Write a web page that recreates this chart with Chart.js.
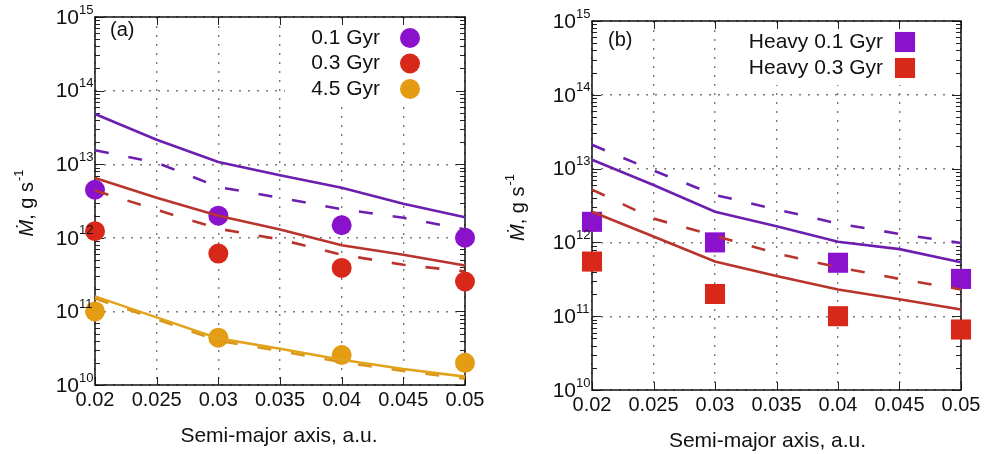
<!DOCTYPE html>
<html><head><meta charset="utf-8">
<script src="https://cdn.jsdelivr.net/npm/chart.js@4.4.0/dist/chart.umd.min.js"></script>
<style>
html,body{margin:0;padding:0;background:#fff;}
#wrap{position:relative;width:989px;height:454px;overflow:hidden;background:#fff;}
.p{position:absolute;top:0;}
</style></head><body>
<div id="wrap">
<div class="p" style="left:0;"><canvas id="ca" width="494" height="454"></canvas></div>
<div class="p" style="left:494px;"><canvas id="cb" width="495" height="454"></canvas></div>
</div>
<script>
// ---------- data ----------
const xPoints = [0.02, 0.03, 0.04, 0.05];
const xModel = [0.02, 0.025, 0.03, 0.035, 0.04, 0.045, 0.05];
const xTicks = [0.02, 0.025, 0.03, 0.035, 0.04, 0.045, 0.05];
const xTickLabels = ['0.02', '0.025', '0.03', '0.035', '0.04', '0.045', '0.05'];
const yTickExponents = [10, 11, 12, 13, 14, 15];
const xTitle = 'Semi-major axis, a.u.';
const yTitleMain = 'Ṁ, g s';
const yTitleSup = '-1';

// panel (a)
const aLabels = ['0.1 Gyr', '0.3 Gyr', '4.5 Gyr'];
const aObs01 = [4.5e12, 2.0e12, 1.48e12, 1.0e12];
const aObs03 = [1.23e12, 6.1e11, 3.9e11, 2.55e11];
const aObs45 = [1.0e11, 4.4e10, 2.56e10, 2.0e10];
const aSolid01 = [4.8e13, 2.15e13, 1.07e13, 7.1e12, 4.8e12, 2.9e12, 1.9e12];
const aDash01 = [1.55e13, 1.05e13, 4.9e12, 3.5e12, 2.45e12, 1.87e12, 1.3e12];
const aSolid03 = [6.5e12, 3.5e12, 2.0e12, 1.3e12, 7.9e11, 5.9e11, 4.2e11];
const aDash03 = [4.4e12, 2.4e12, 1.33e12, 9.5e11, 5.9e11, 4.3e11, 3.5e11];
const aSolid45 = [1.6e11, 8.3e10, 4.3e10, 3.1e10, 2.2e10, 1.65e10, 1.3e10];
const aDash45 = [1.5e11, 7.8e10, 4.0e10, 2.9e10, 2.05e10, 1.55e10, 1.22e10];

// panel (b)
const bLabels = ['Heavy 0.1 Gyr', 'Heavy 0.3 Gyr'];
const bObs01 = [1.9e12, 1.0e12, 5.3e11, 3.2e11];
const bObs03 = [5.5e11, 2.0e11, 1.0e11, 6.6e10];
const bSolid01 = [1.32e13, 6.0e12, 2.6e12, 1.66e12, 1.02e12, 8.1e11, 5.4e11];
const bDash01 = [2.1e13, 9.4e12, 4.4e12, 2.8e12, 1.8e12, 1.3e12, 9.8e11];
const bSolid03 = [2.6e12, 1.2e12, 5.5e11, 3.5e11, 2.3e11, 1.7e11, 1.23e11];
const bDash03 = [5.2e12, 2.1e12, 1.23e12, 7.1e11, 4.6e11, 3.2e11, 2.3e11];

// ---------- styles ----------
const C = {
  purpleM: '#8a12cc', redM: '#d8281a', yellowM: '#e49c12',
  purpleL: '#6c1fae', redL: '#b8342c', yellowL: '#e3a21c'
};
const FONT = '"Liberation Sans", Arial, Helvetica, sans-serif';

function pts(xs, ys) { return xs.map((x, i) => ({ x: x, y: ys[i] })); }
function lineDs(data, color, dashed) {
  return {
    data: pts(xModel, data), showLine: true, pointRadius: 0, borderColor: color,
    borderWidth: 2.6, borderDash: dashed ? [14, 20] : [], fill: false, tension: 0, order: 1, clip: false
  };
}
function markDs(label, data, color, style, r) {
  return {
    label: label, data: pts(xPoints, data), showLine: false, pointStyle: style,
    pointRadius: r, pointBackgroundColor: color, pointBorderColor: color, pointBorderWidth: 0,
    order: 2, legendShow: true, clip: false
  };
}

const decor = {
  id: 'decor',
  beforeDatasetsDraw(chart, args, o) {
    const ctx = chart.ctx, ca = chart.chartArea, xs = chart.scales.x, ys = chart.scales.y;
    ctx.save();
    // legend background
    ctx.fillStyle = '#fff';
    ctx.fillRect(ca.left + o.box[0], ca.top + 2, ca.right - 2 - (ca.left + o.box[0]), o.box[1]);
    // ticks
    ctx.strokeStyle = '#222'; ctx.lineWidth = 1;
    ctx.beginPath();
    for (let e = yTickExponents[0]; e < yTickExponents[yTickExponents.length - 1]; e++) {
      for (let m = 2; m <= 9; m++) {
        const y = Math.round(ys.getPixelForValue(m * Math.pow(10, e))) + 0.5;
        ctx.moveTo(ca.left, y); ctx.lineTo(ca.left + 5, y);
        ctx.moveTo(ca.right, y); ctx.lineTo(ca.right - 5, y);
      }
    }
    yTickExponents.forEach(e => {
      const y = Math.round(ys.getPixelForValue(Math.pow(10, e))) + 0.5;
      ctx.moveTo(ca.left, y); ctx.lineTo(ca.left + 9, y);
      ctx.moveTo(ca.right, y); ctx.lineTo(ca.right - 9, y);
    });
    xTicks.forEach(v => {
      const x = Math.round(xs.getPixelForValue(v)) + 0.5;
      ctx.moveTo(x, ca.bottom); ctx.lineTo(x, ca.bottom - 8);
      ctx.moveTo(x, ca.top); ctx.lineTo(x, ca.top + 8);
    });
    ctx.stroke();
    // frame
    ctx.lineWidth = 1.5; ctx.strokeStyle = '#111';
    ctx.strokeRect(ca.left, ca.top, ca.right - ca.left, ca.bottom - ca.top);
    ctx.restore();
  },
  afterDraw(chart, args, o) {
    const ctx = chart.ctx, ca = chart.chartArea, xs = chart.scales.x, ys = chart.scales.y;
    ctx.save();
    ctx.fillStyle = '#111';
    // x tick labels
    ctx.font = '20px ' + FONT; ctx.textAlign = 'center'; ctx.textBaseline = 'middle';
    xTicks.forEach((v, i) => ctx.fillText(xTickLabels[i], xs.getPixelForValue(v), ca.bottom + 15));
    // y tick labels
    yTickExponents.forEach(e => {
      const y = ys.getPixelForValue(Math.pow(10, e));
      ctx.font = '21px ' + FONT; ctx.textAlign = 'right';
      ctx.fillText('10', ca.left - 16, y + 1);
      ctx.font = '13px ' + FONT; ctx.textAlign = 'left';
      ctx.fillText(String(e), ca.left - 16, y - 7);
    });
    // x title
    ctx.font = '21px ' + FONT; ctx.textAlign = 'center';
    ctx.fillText(xTitle, (ca.left + ca.right) / 2 + o.xTitleDX, ca.bottom + 51);
    // y title
    ctx.save();
    ctx.translate(o.yTitleX, (ca.top + ca.bottom) / 2 + 2);
    ctx.rotate(-Math.PI / 2);
    ctx.font = '20px ' + FONT;
    const w1 = ctx.measureText(yTitleMain).width;
    ctx.font = '13px ' + FONT;
    const w2 = ctx.measureText(yTitleSup).width;
    const x0 = -(w1 + w2 + 1) / 2;
    ctx.textAlign = 'left';
    ctx.font = 'italic 20px ' + FONT;
    ctx.fillText(yTitleMain.charAt(0), x0, 0);
    const wM = ctx.measureText(yTitleMain.charAt(0)).width;
    ctx.font = '20px ' + FONT;
    ctx.fillText(yTitleMain.slice(1), x0 + wM, 0);
    ctx.font = '13px ' + FONT;
    ctx.fillText(yTitleSup, x0 + w1 + 1, -8);
    ctx.restore();
    // panel label
    ctx.font = '20px ' + FONT; ctx.textAlign = 'left';
    ctx.fillText(o.panelLabel, ca.left + o.labelDX, ca.top + o.labelDY);
    // legend
    let row = 0;
    chart.data.datasets.forEach(ds => {
      if (!ds.legendShow) return;
      const y = ca.top + o.legTop + row * o.legStep;
      ctx.font = o.legFont + 'px ' + FONT; ctx.textAlign = 'right'; ctx.fillStyle = '#111';
      ctx.fillText(ds.label, ca.right - o.legTextDX, y);
      const mx = ca.right - o.legMarkDX;
      ctx.fillStyle = ds.pointBackgroundColor;
      if (ds.pointStyle === 'circle') {
        ctx.beginPath(); ctx.arc(mx, y, ds.pointRadius, 0, Math.PI * 2); ctx.fill();
      } else {
        const s = ds.pointRadius * Math.SQRT1_2;
        ctx.fillRect(mx - s, y - s, 2 * s, 2 * s);
      }
      row++;
    });
    ctx.restore();
  }
};

function makeChart(id, datasets, pad, decorOpts) {
  return new Chart(document.getElementById(id), {
    type: 'scatter',
    data: { datasets: datasets },
    plugins: [decor],
    options: {
      responsive: false, animation: false, devicePixelRatio: 1,
      layout: { padding: pad },
      plugins: { legend: { display: false }, tooltip: { enabled: false }, decor: decorOpts },
      scales: {
        x: {
          type: 'linear', min: 0.02, max: 0.05,
          afterBuildTicks: s => { s.ticks = xTicks.map(v => ({ value: v })); },
          afterFit: s => { s.height = 0; },
          ticks: { display: false },
          grid: { color: '#7a7a7a', lineWidth: 1.4, drawTicks: false },
          border: { display: false, dash: [2, 7] }
        },
        y: {
          type: 'logarithmic', min: 1e10, max: 1e15,
          afterBuildTicks: s => { s.ticks = yTickExponents.map(e => ({ value: Math.pow(10, e) })); },
          afterFit: s => { s.width = 0; },
          ticks: { display: false },
          grid: { color: '#7a7a7a', lineWidth: 1.4, drawTicks: false },
          border: { display: false, dash: [2, 7] }
        }
      }
    }
  });
}

makeChart('ca', [
  lineDs(aSolid01, C.purpleL, false), lineDs(aDash01, C.purpleL, true),
  lineDs(aSolid03, C.redL, false), lineDs(aDash03, C.redL, true),
  lineDs(aSolid45, C.yellowL, false), lineDs(aDash45, '#d8961a', true),
  markDs(aLabels[0], aObs01, C.purpleM, 'circle', 10),
  markDs(aLabels[1], aObs03, C.redM, 'circle', 10),
  markDs(aLabels[2], aObs45, C.yellowM, 'circle', 10)
], { left: 95, right: 29, top: 17, bottom: 69 },
{ panelLabel: '(a)', labelDX: 15, labelDY: 13, xTitleDX: -1, yTitleX: 27, box: [190, 84],
  legTop: 21, legStep: 25.5, legFont: 21, legTextDX: 85, legMarkDX: 55 });

makeChart('cb', [
  lineDs(bSolid01, C.purpleL, false), lineDs(bDash01, C.purpleL, true),
  lineDs(bSolid03, C.redL, false), lineDs(bDash03, C.redL, true),
  markDs(bLabels[0], bObs01, C.purpleM, 'rect', 14.2),
  markDs(bLabels[1], bObs03, C.redM, 'rect', 14.2)
], { left: 98, right: 28, top: 21, bottom: 64 },
{ panelLabel: '(b)', labelDX: 16, labelDY: 19, xTitleDX: -9, yTitleX: 24, box: [143, 62],
  legTop: 21, legStep: 26, legFont: 21, legTextDX: 78, legMarkDX: 56 });
</script>
</body></html>
